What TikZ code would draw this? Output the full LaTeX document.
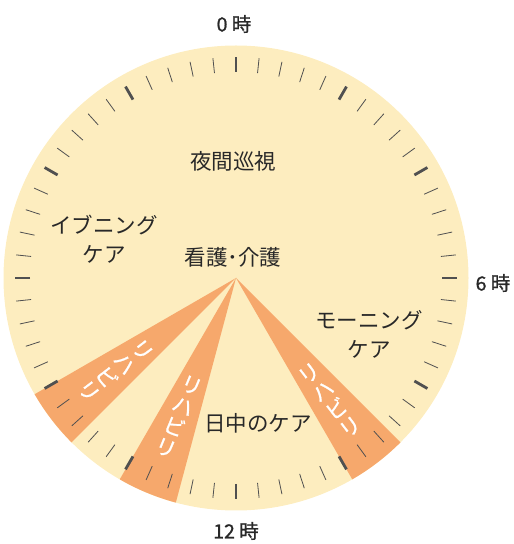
\documentclass[tikz,border=0pt]{standalone}
\usepackage{fontspec}
\usetikzlibrary{calc}
\newfontfamily\jp{Noto Sans CJK JP}
\newfontfamily\jpw[FakeBold=1]{Noto Sans CJK JP}
\definecolor{cream}{RGB}{253,237,191}
\definecolor{rehab}{RGB}{246,168,108}
\definecolor{tickc}{RGB}{80,80,80}
\definecolor{txt}{RGB}{40,40,40}
\tikzset{
  face/.style={fill=cream},
  wedge/.style={fill=rehab},
  thintick/.style={draw=tickc, line width=0.8pt},
  thicktick/.style={draw=tickc, line width=2.8pt},
  label/.style={text=txt, font=\jp\fontsize{21.5}{29}\selectfont, align=center, inner sep=0pt},
  hourlbl/.style={text=txt, font=\jpw\fontsize{19.5}{22}\selectfont, inner sep=0pt},
  rehablbl/.style={text=white, font=\jpw\fontsize{21}{22.5}\selectfont, align=center, inner sep=0pt}
}
\begin{document}
\begin{tikzpicture}[x=1pt,y=1pt]
\useasboundingbox (0,0) rectangle (514,544);
\coordinate (ctr) at (236,266);
\def\R{232.5}
% face
\fill[face] (ctr) circle[radius=\R];
% wedges
\fill[wedge] (ctr) -- ++(-135:\R) arc[start angle=-135, end angle=-150, radius=\R] -- cycle;
\fill[wedge] (ctr) -- ++(-105:\R) arc[start angle=-105, end angle=-120, radius=\R] -- cycle;
\fill[wedge] (ctr) -- ++(-45:\R) arc[start angle=-45, end angle=-60, radius=\R] -- cycle;
% ticks
\foreach \i in {0,...,59}{
  \pgfmathtruncatemacro{\m}{mod(\i,5)}
  \pgfmathsetmacro{\a}{90-6*\i}
  \ifnum\m=0
    \draw[thicktick] ($(ctr)+(\a:206)$) -- ($(ctr)+(\a:221)$);
  \else
    \draw[thintick] ($(ctr)+(\a:206)$) -- ($(ctr)+(\a:221)$);
  \fi
}
% hour labels
\node[hourlbl] (h0) at (234,520) {0 時};
\node[hourlbl] (h6) at (493,261) {6 時};
\node[hourlbl] (h12) at (236,13) {12 時};
% area labels
\node[label] (yakan) at (233,383) {夜間巡視};
\node[label] (kango) at (233,287) {看護･介護};
\node[label] (evening) at (104,305) {イブニング\\ケア};
\node[label] (morning) at (369,210) {モーニング\\ケア};
\node[label] (nicchu) at (258,121) {日中のケア};
% rehab labels
\node[rehablbl, rotate=-52.5] (r1) at ($(ctr)+(-142.5:152)$) {リ\\ハ\\ビ\\リ};
\node[rehablbl, rotate=-22.5] (r2) at ($(ctr)+(-112.5:150)$) {リ\\ハ\\ビ\\リ};
\node[rehablbl, rotate=37.5] (r3) at ($(ctr)+(-52.5:154)$) {リ\\ハ\\ビ\\リ};
\end{tikzpicture}
\end{document}
